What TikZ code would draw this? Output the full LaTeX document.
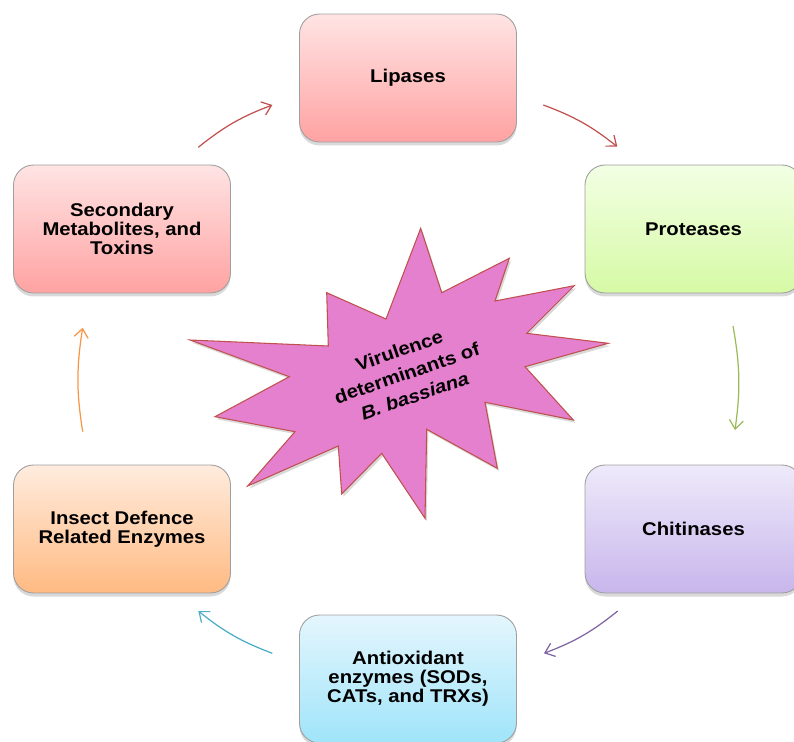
\documentclass[tikz,border=0pt]{standalone}
\usepackage{fontspec}
\setmainfont{Liberation Sans}[FakeStretch=1.1]
\usepackage{tikz}
\usetikzlibrary{arrows.meta,shadows}
\definecolor{redtop}{RGB}{255,228,228}
\definecolor{redbot}{RGB}{255,162,162}
\definecolor{grntop}{RGB}{242,255,228}
\definecolor{grnbot}{RGB}{214,250,165}
\definecolor{lavtop}{RGB}{238,234,250}
\definecolor{lavbot}{RGB}{200,182,236}
\definecolor{cyntop}{RGB}{228,246,253}
\definecolor{cynbot}{RGB}{160,228,250}
\definecolor{orgtop}{RGB}{255,236,222}
\definecolor{orgbot}{RGB}{255,186,130}
\definecolor{starfill}{RGB}{228,128,205}
\definecolor{redln}{RGB}{192,80,77}
\definecolor{grnln}{RGB}{155,187,89}
\definecolor{purln}{RGB}{128,100,162}
\definecolor{cynln}{RGB}{75,172,198}
\definecolor{orgln}{RGB}{247,150,70}

\begin{document}
\begin{tikzpicture}[x=0.02cm,y=-0.02cm,
        vbox/.style={rectangle,rounded corners=0.4cm,draw=gray!75,line width=0.5pt,
                     top color=#1top,bottom color=#1bot,
                     minimum width=4.34cm,minimum height=2.56cm,align=center,
                     font=\fontsize{10.5}{10.9}\selectfont\bfseries,
                     drop shadow={shadow xshift=0pt,shadow yshift=-2pt,opacity=0.3}},
        cyc/.style={-{Straight Barb[length=5pt,width=8pt]},line width=0.7pt,draw=#1},
      ]
        \useasboundingbox (0,0) rectangle (794,742);

        % -- Boxes round the star
        \node[vbox=red] (lip) at (408,78)    {Lipases};
        \node[vbox=grn] (pro) at (693.5,229) {Proteases};
        \node[vbox=lav] (chi) at (693.5,529) {Chitinases};
        \node[vbox=cyn] (ant) at (408,679)   {Antioxidant\\enzymes (SODs,\\CATs, and TRXs)};
        \node[vbox=org] (ins) at (122,529)   {Insect Defence\\Related Enzymes};
        \node[vbox=red] (sec) at (122,229)   {Secondary\\Metabolites, and\\Toxins};

        % -- Centre star
        \draw[fill=starfill,draw=redln,line width=0.6pt,
              drop shadow={shadow xshift=1pt,shadow yshift=-1.5pt,opacity=0.3}]
          (420.7,228.3) -- (441.7,292.7) -- (509.3,258.3) -- (495,301)
          -- (574.3,285.7) -- (526.7,333.3) -- (608.3,343.3) -- (525,366.7)
          -- (573.3,420) -- (485,402.3) -- (497.3,468.3) -- (426.7,429.3)
          -- (425,518.3) -- (381.7,453.3) -- (341.7,494) -- (338.3,446)
          -- (247.7,486) -- (295,431.7) -- (215,416.7) -- (289.3,376.7)
          -- (190,340) -- (328.3,346) -- (326.7,292.7) -- (386,319) -- cycle;
        \node[rotate=19,align=center,font=\fontsize{10.5}{13.6}\selectfont\bfseries]
          (vir) at (407,373) {Virulence\\determinants of\\\textit{B. bassiana}};

        % -- Arrow ends
        \coordinate (a1) at (198.3,147.3); \coordinate (b1) at (272.3,105);
        \coordinate (a2) at (543.3,105);   \coordinate (b2) at (617.3,146.7);
        \coordinate (a3) at (733,326);     \coordinate (b3) at (735,430);
        \coordinate (a4) at (617.7,611);   \coordinate (b4) at (544,653.3);
        \coordinate (a5) at (272.3,653.3); \coordinate (b5) at (198.3,611);
        \coordinate (a6) at (82.7,431.7);  \coordinate (b6) at (82.7,327.7);

        % -- Cycle arrows
        \draw[cyc=redln] (a1) to[bend left=9] (b1);
        \draw[cyc=redln] (a2) to[bend left=9] (b2);
        \draw[cyc=grnln] (a3) to[bend left=9] (b3);
        \draw[cyc=purln] (a4) to[bend left=9] (b4);
        \draw[cyc=cynln] (a5) to[bend left=9] (b5);
        \draw[cyc=orgln] (a6) to[bend left=9] (b6);
      \end{tikzpicture}
\end{document}
